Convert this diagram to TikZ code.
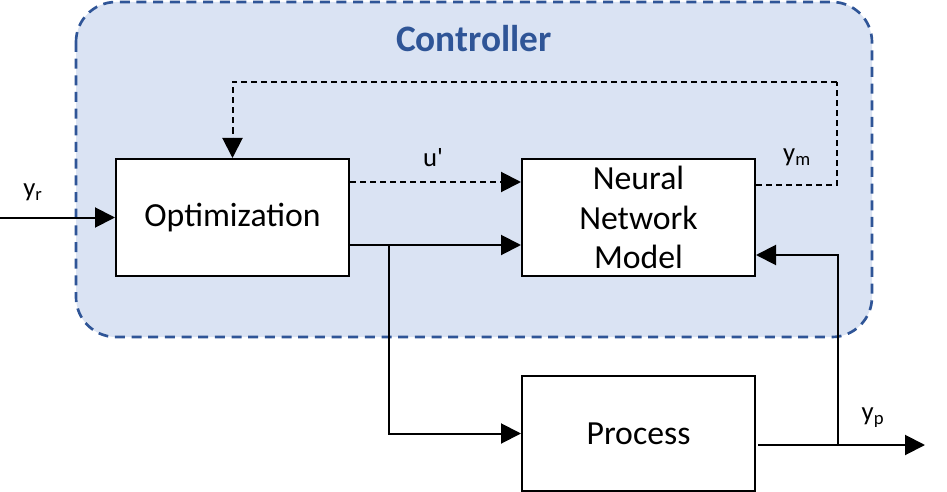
\documentclass[tikz,border=0pt]{standalone}
\usepackage{fontspec}
\setmainfont{Carlito}
\usetikzlibrary{arrows.meta, positioning, calc, backgrounds}
\definecolor{CtrlBlue}{HTML}{2F5597}
\definecolor{CtrlFill}{HTML}{DAE3F3}
\tikzset{
  block/.style={draw=black, line width=1.5pt, fill=white, align=center, minimum width=174.75pt, minimum height=87.75pt, inner sep=2pt, font=\fontsize{25.3}{29.6}\selectfont},
  ctrlbox/.style={draw=CtrlBlue, line width=2pt, dash pattern=on 7.5pt off 5pt, fill=CtrlFill, rounded corners=30pt},
  sig/.style={font=\fontsize{20}{24}\selectfont, inner sep=1pt},
  arrow/.style={-{Triangle[length=15pt, width=15pt]}, line width=1.5pt, draw=black},
  dasharrow/.style={-{Triangle[length=15pt, width=15pt]}, line width=1.5pt, draw=black, dash pattern=on 4.5pt off 3pt},
  dashline/.style={line width=1.5pt, draw=black, dash pattern=on 4.5pt off 3pt}
}

\begin{document}
\begin{tikzpicture}[x=0.75pt, y=-0.75pt, node distance=128.25pt]
\useasboundingbox (0,0) rectangle (947,492);
\draw[ctrlbox] (76,2) rectangle (872,337);
\node[font=\fontsize{28}{32}\selectfont\bfseries, text=CtrlBlue] (title) at (474,39) {Controller};

\node[block] (opt) at (232.5,217.5) {Optimization};
\node[block, right=of opt] (nn) {Neural\\Network\\Model};
\node[block, minimum height=86.25pt, below=73.5pt of nn] (proc) {Process};

\coordinate (yrin) at (0,217.5);
\coordinate (br) at (389,245);
\coordinate (tap) at (838,445);
\coordinate (ypout) at (925,445);
\coordinate (fbtop) at (837,82);

\draw[arrow] (yrin) -- (opt.west);
\draw[dasharrow] ($(opt.east)+(0,-35.5)$) -- ($(nn.west)+(0,-35.5)$);
\draw[arrow] ($(opt.east)+(0,27.5)$) -- ($(nn.west)+(0,27.5)$);
\draw[arrow] (br) |- (proc.west);
\draw[arrow] ([xshift=1.5pt]proc.east |- ypout) -- (ypout);
\draw[arrow] (tap) |- ($(nn.east)+(0,37.5)$);
\draw[dashline] ($(nn.east)+(0,-32.5)$) -| (fbtop);
\draw[dasharrow] (fbtop) -| (opt.north);

\node[sig] (yr) at (33,192) {y\textsubscript{r}};
\node[sig] (uprime) at (433,158) {u\textquotesingle};
\node[sig] (ym) at (797,157) {y\textsubscript{m}};
\node[sig] (yp) at (873,418) {y\textsubscript{p}};
\end{tikzpicture}
\end{document}
